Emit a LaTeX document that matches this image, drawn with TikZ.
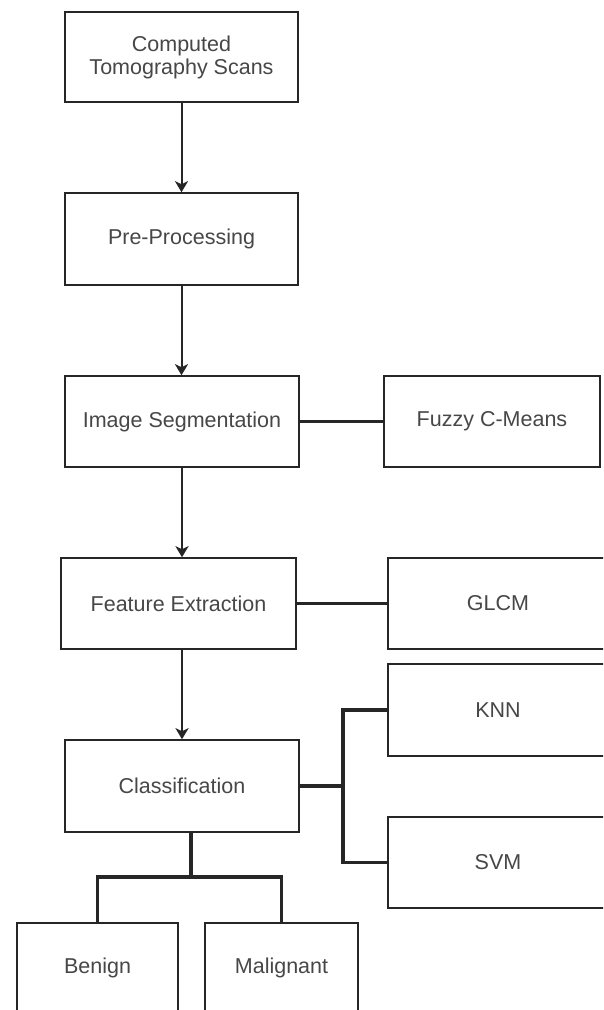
\documentclass[tikz,border=0pt]{standalone}
\usepackage{fontspec}
\setmainfont{Liberation Sans}
\usetikzlibrary{arrows.meta}
\definecolor{edge}{HTML}{262626}
\definecolor{label}{HTML}{474747}
\tikzset{
  x=1pt, y=-1pt,
  box/.style={draw=edge, line width=1.6pt, fill=white, inner sep=0pt,
    text=label, align=center, font=\fontsize{21.5}{23}\selectfont},
  flow/.style={draw=edge, line width=2pt,
    -{Stealth[length=11pt,width=13pt,inset=3pt]}},
  link/.style={draw=edge, line width=3.2pt},
}
\begin{document}
\begin{tikzpicture}
\useasboundingbox (0,0) rectangle (603,1010);
\clip (0,0) rectangle (603,1010);
\fill[white] (0,0) rectangle (603,1010);

% main pipeline
\node[box, minimum width=233pt, minimum height=90pt] (ct)   at (181.5,57)  {Computed\\Tomography Scans};
\node[box, minimum width=233pt, minimum height=92pt] (pre)  at (181.5,239) {Pre-Processing};
\node[box, minimum width=234pt, minimum height=91pt] (seg)  at (182,421.5) {Image Segmentation};
\node[box, minimum width=235pt, minimum height=91pt] (feat) at (178.5,603.5){Feature Extraction};
\node[box, minimum width=234pt, minimum height=92pt] (cls)  at (182,786)   {Classification};

% methods on the right
\node[box, minimum width=216pt, minimum height=91pt] (fcm)  at (492,421.5) {Fuzzy C-Means};
\node[box, minimum width=220pt, minimum height=91pt] (glcm) at (498,603.5) {GLCM};
\node[box, minimum width=220pt, minimum height=92pt] (knn)  at (498,710)   {KNN};
\node[box, minimum width=220pt, minimum height=91pt] (svm)  at (498,862.5) {SVM};

% outcomes
\node[box, minimum width=161pt, minimum height=90pt] (ben)  at (97.5,968)  {Benign};
\node[box, minimum width=153pt, minimum height=90pt] (mal)  at (281.5,968) {Malignant};

% flow arrows
\draw[flow] (ct.south) -- (pre.north);
\draw[flow] (pre.south) -- (pre.south |- seg.north);
\draw[flow] (seg.south) -- (seg.south |- feat.north);
\draw[flow] (feat.south -| cls.north) -- (cls.north);

% attachments
\draw[link] (seg.east) -- (seg.east -| fcm.west);
\draw[link] (feat.east) -- (feat.east -| glcm.west);

\coordinate (fork)  at (343,786);
\draw[link] (cls.east) -- (fork);
\draw[link] (knn.west) -| (fork) |- (svm.west);

\coordinate (split) at (191,877);
\draw[link] (cls.south -| split) -- (split);
\draw[link] (ben.north) |- (split) -| (mal.north);
\end{tikzpicture}
\end{document}
